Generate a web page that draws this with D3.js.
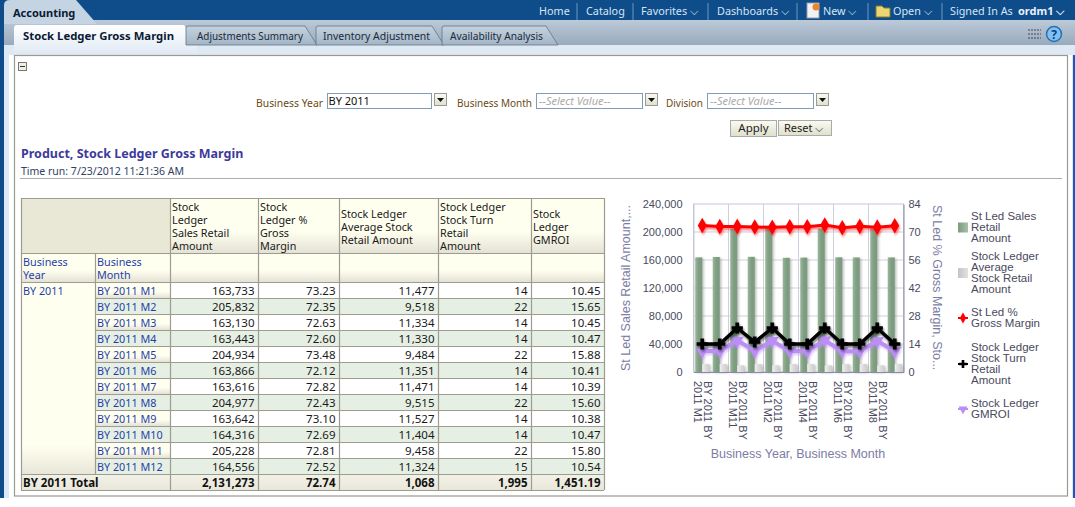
<!DOCTYPE html>
<html>
<head>
<meta charset="utf-8">
<title>Stock Ledger Gross Margin</title>
<script src="https://cdn.jsdelivr.net/npm/d3@7"></script>
<style>
  html, body { margin: 0; padding: 0; background: #fff; overflow: hidden; }
  svg { display: block; font-family: "Noto Sans", sans-serif; }
  .chart text { font-family: "Liberation Sans", Arial, sans-serif; }
</style>
</head>
<body>
<svg id="page" width="1075" height="507"></svg>
<script>
// table order
const months = ["BY 2011 M1","BY 2011 M2","BY 2011 M3","BY 2011 M4","BY 2011 M5","BY 2011 M6",
                "BY 2011 M7","BY 2011 M8","BY 2011 M9","BY 2011 M10","BY 2011 M11","BY 2011 M12"];
const salesRetail = [163733,205832,163130,163443,204934,163866,163616,204977,163642,164316,205228,164556];
const grossMargin = [73.23,72.35,72.63,72.60,73.48,72.12,72.82,72.43,73.10,72.69,72.81,72.52];
const avgStock = [11477,9518,11334,11330,9484,11351,11471,9515,11527,11404,9458,11324];
const stockTurn = [14,22,14,14,22,14,14,22,14,14,22,15];
const gmroi = [10.45,15.65,10.45,10.47,15.88,10.41,10.39,15.60,10.38,10.47,15.80,10.54];
const totals = ["2,131,273","72.74","1,068","1,995","1,451.19"];

const leftTicks = [0,40000,80000,120000,160000,200000,240000];
const rightTicks = [0,14,28,42,56,70,84];

const headers = [
  ["Stock","Ledger","Sales Retail","Amount"],
  ["Stock","Ledger %","Gross","Margin"],
  ["Stock Ledger","Average Stock","Retail Amount"],
  ["Stock Ledger","Stock Turn","Retail","Amount"],
  ["Stock","Ledger","GMROI"]
];
const legendItems = [
  {lines:["St Led Sales","Retail","Amount"], kind:"bar", color:"url(#legendGreen)"},
  {lines:["Stock Ledger","Average","Stock Retail","Amount"], kind:"bar", color:"url(#legendGrey)"},
  {lines:["St Led %","Gross Margin"], kind:"diamond", color:"#ff0000"},
  {lines:["Stock Ledger","Stock Turn","Retail","Amount"], kind:"plus", color:"#000000"},
  {lines:["Stock Ledger","GMROI"], kind:"tri", color:"#bb8ef5"}
];

const svg = d3.select("#page");
const defs = svg.append("defs");

function vGrad(id, stops, horizontal) {
  const g = defs.append("linearGradient").attr("id", id)
    .attr("x1", 0).attr("y1", 0).attr("x2", horizontal ? 1 : 0).attr("y2", horizontal ? 0 : 1);
  stops.forEach(s => g.append("stop").attr("offset", s[0]).attr("stop-color", s[1]));
}
vGrad("tabBar", [[0,"#bccad8"],[1,"#98aabd"]]);
vGrad("activeTab", [[0,"#ffffff"],[1,"#dfe9f3"]]);
vGrad("navTab", [[0,"#c4d2de"],[1,"#a3b5c6"]]);
vGrad("headCell", [[0,"#fffff0"],[0.6,"#fffff0"],[1,"#e4e2d4"]]);
vGrad("rowCell", [[0,"#fffff0"],[0.85,"#fffff0"],[1,"#e8e6d8"]]);
vGrad("totalCell", [[0,"#f3f2e8"],[1,"#e9e7da"]]);
vGrad("button", [[0,"#fbfbf2"],[1,"#dfdfcc"]]);
vGrad("barGreen", [[0,"#9ab69a"],[0.5,"#7f9f82"],[1,"#7a9a7e"]], true);
vGrad("barGrey", [[0,"#efefef"],[0.5,"#dcdcdc"],[1,"#cecece"]], true);
vGrad("legendGreen", [[0,"#7a9c7c"],[1,"#a9c0a9"]], true);
vGrad("legendGrey", [[0,"#c4c4c4"],[1,"#e2e2e2"]], true);

const soft = defs.append("filter").attr("id", "soft")
  .attr("x", "-30%").attr("y", "-30%").attr("width", "170%").attr("height", "170%");
soft.append("feDropShadow").attr("dx", 1.5).attr("dy", 1).attr("stdDeviation", 1)
  .attr("flood-color", "#777").attr("flood-opacity", 0.5);
// lines cast a blurred copy of their own colour
const glow = defs.append("filter").attr("id", "glow")
  .attr("x", "-10%").attr("y", "-30%").attr("width", "120%").attr("height", "170%");
glow.append("feGaussianBlur").attr("in", "SourceGraphic").attr("stdDeviation", 1.2).attr("result", "b");
glow.append("feOffset").attr("in", "b").attr("dx", 1).attr("dy", 1.5).attr("result", "o");
glow.append("feComponentTransfer").attr("in", "o").attr("result", "f")
  .append("feFuncA").attr("type", "linear").attr("slope", 0.5);
const glowMerge = glow.append("feMerge");
glowMerge.append("feMergeNode").attr("in", "f");
glowMerge.append("feMergeNode").attr("in", "SourceGraphic");

function label(g, x, y, txt, o) {
  o = o || {};
  const t = g.append("text").attr("x", x).attr("y", y).text(txt)
    .attr("font-size", o.size || 10.8)
    .attr("font-weight", o.weight || null)
    .attr("font-style", o.style || null)
    .attr("text-anchor", o.anchor || "start")
    .attr("fill", o.fill || "#222");
  // Tahoma is not installed, squeeze the stand-in to the measured width
  if (o.w) t.attr("textLength", o.w).attr("lengthAdjust", "spacingAndGlyphs");
  return t;
}

// ---- page frame ----
const frame = svg.append("g");
frame.append("rect").attr("width", 1075).attr("height", 507).attr("fill", "#dce8f3");
frame.append("rect").attr("width", 4).attr("height", 507).attr("fill", "#0f4c8a");
frame.append("rect").attr("x", 9).attr("y", 55).attr("width", 1063).attr("height", 443).attr("fill", "#fff");
frame.append("rect").attr("x", 1073).attr("width", 2).attr("height", 507).attr("fill", "#1c55c8");
frame.append("rect").attr("y", 498).attr("width", 1075).attr("height", 9).attr("fill", "#ffffff");
frame.append("rect").attr("width", 1075).attr("height", 20).attr("fill", "#0f4c8a");
frame.append("rect").attr("x", 4).attr("y", 20).attr("width", 1071).attr("height", 25).attr("fill", "url(#tabBar)");

// Accounting tab
frame.append("path").attr("d", "M4,24V5Q4,0 10,0H76L97,24Z").attr("fill", "#c4d4e2");
label(frame, 13, 17, "Accounting", {size:11, weight:"bold", fill:"#0b1a33"});

// top nav
const nav = [["Home",539],["Catalog",586],["Favorites ⌵",641],["Dashboards ⌵",717],["New ⌵",823],["Open ⌵",893],["Signed In As",950]];
nav.forEach(n => label(frame, n[1], 15, n[0], {size:10.8, fill:"#d5e6f5"}));
label(frame, 1018, 15, "ordm1 ⌵", {size:11, weight:"bold", fill:"#e6f1fa"});
[577,633,708,797,868,942].forEach(x => frame.append("line").attr("x1", x).attr("x2", x).attr("y1", 3).attr("y2", 20).attr("stroke", "#6f97bd"));
frame.append("rect").attr("x", 807).attr("y", 3).attr("width", 12).attr("height", 15).attr("fill", "#f2f2f2").attr("stroke", "#99a");
frame.append("circle").attr("cx", 816).attr("cy", 7).attr("r", 3.5).attr("fill", "#e8862a");
frame.append("path").attr("d", "M876,6H882L884,8H890V17H876Z").attr("fill", "#e9d774").attr("stroke", "#8c7a2a");

// sub tabs
frame.append("rect").attr("x", 4).attr("y", 45).attr("width", 1071).attr("height", 10).attr("fill", "#dfe9f3");
frame.append("path").attr("d", "M14,55V28Q14,25 17,25H184L197,45V55Z").attr("fill", "url(#activeTab)");
label(frame, 23, 40, "Stock Ledger Gross Margin", {size:11.25, weight:"bold", fill:"#0b1a33", w:151});
[[186,"Adjustments Summary",197,305,106],[316,"Inventory Adjustment",323,432,107],[442,"Availability Analysis",450,546,93]].forEach(t => {
  frame.append("path").attr("d", `M${t[0]},45V28Q${t[0]},26 ${t[0]+2},26H${t[3]}L${t[3]+12},45Z`)
    .attr("fill", "url(#navTab)").attr("stroke", "#5f7587").attr("stroke-width", 0.8);
  label(frame, t[2], 40, t[1], {size:10.7, fill:"#1a2a3a", w:t[4]});
});

// toolbar icons
[30,34,38].forEach(y => frame.append("line").attr("x1", 1028).attr("x2", 1041).attr("y1", y).attr("y2", y).attr("stroke", "#445").attr("stroke-dasharray", "2 1"));
frame.append("circle").attr("cx", 1054).attr("cy", 34).attr("r", 7.5).attr("fill", "#7fc0f2").attr("stroke", "#2a6fb0").attr("stroke-width", 1.5);
label(frame, 1054, 38.5, "?", {size:12, weight:"bold", anchor:"middle", fill:"#123f7a"});

// white panel
frame.append("rect").attr("x", 14.5).attr("y", 55.5).attr("width", 1053).attr("height", 440.5)
  .attr("fill", "#fff").attr("stroke", "#9a9a92").attr("stroke-width", 1.2);

// collapse box
frame.append("rect").attr("x", 18.5).attr("y", 62.5).attr("width", 8).attr("height", 8).attr("fill", "#eeeee2").attr("stroke", "#777");
frame.append("line").attr("x1", 20).attr("x2", 25).attr("y1", 66.5).attr("y2", 66.5).attr("stroke", "#333");

// ---- prompts ----
const prompts = svg.append("g");
function combo(x, w, txt, placeholder, labelText, labelX, labelW) {
  label(prompts, labelX, 107, labelText, {size:10.7, fill:"#6b4a12", w:labelW});
  prompts.append("rect").attr("x", x + 0.5).attr("y", 93.5).attr("width", w).attr("height", 15).attr("fill", "#fff").attr("stroke", "#7f9db9");
  label(prompts, x + (placeholder ? 3 : 1.5), 105, txt, placeholder ? {size:11, style:"italic", fill:"#aaa"} : {size:11, fill:"#111"});
  const bx = x + w + 3;
  prompts.append("rect").attr("x", bx + 0.5).attr("y", 93.5).attr("width", 12).attr("height", 12).attr("fill", "url(#button)").attr("stroke", "#999");
  prompts.append("path").attr("d", `M${bx+3},98h7l-3.5,4Z`).attr("fill", "#111");
}
combo(327, 104, "BY 2011", false, "Business Year", 256, 67);
combo(536, 106, "--Select Value--", true, "Business Month", 457, 75);
combo(707, 106, "--Select Value--", true, "Division", 666, 37);
prompts.append("rect").attr("x", 730.5).attr("y", 120.5).attr("width", 46).attr("height", 16).attr("fill", "url(#button)").attr("stroke", "#aaa");
label(prompts, 753.5, 132, "Apply", {size:11.5, anchor:"middle"});
prompts.append("rect").attr("x", 778.5).attr("y", 120.5).attr("width", 53).attr("height", 15).attr("fill", "url(#button)").attr("stroke", "#aaa");
label(prompts, 784, 132, "Reset ⌵", {size:11});

label(svg, 21, 158, "Product, Stock Ledger Gross Margin", {size:12.5, weight:"bold", fill:"#3d3a9c"});
label(svg, 21, 175, "Time run: 7/23/2012 11:21:36 AM", {size:10.5, fill:"#2f3f66"});
svg.append("line").attr("x1", 20).attr("x2", 1062).attr("y1", 178.5).attr("y2", 178.5).attr("stroke", "#a8adb0");

// ---- table ----
const colX = [21,95,170,258,339,438,531,604];
const rowH = 16, rowTop = 282, headTop = 198, headMid = 253;
const tbl = svg.append("g");
const lineColor = "#9c9c90";
const blue = "#1f3fa6";

tbl.append("rect").attr("x", colX[0]).attr("y", headTop).attr("width", colX[2]-colX[0]).attr("height", headMid-headTop).attr("fill", "#e9e8d6");
headers.forEach((h, i) => {
  tbl.append("rect").attr("x", colX[i+2]).attr("y", headTop).attr("width", colX[i+3]-colX[i+2]).attr("height", headMid-headTop).attr("fill", "url(#headCell)");
  const y0 = h.length === 4 ? 211 : 218;
  h.forEach((t, j) => label(tbl, colX[i+2]+2, y0 + j*13, t, {fill:"#1a1a1a"}));
  tbl.append("rect").attr("x", colX[i+2]).attr("y", headMid).attr("width", colX[i+3]-colX[i+2]).attr("height", rowTop-headMid).attr("fill", "url(#headCell)");
});
[[0,["Business","Year"]],[1,["Business","Month"]]].forEach(d => {
  tbl.append("rect").attr("x", colX[d[0]]).attr("y", headMid).attr("width", colX[d[0]+1]-colX[d[0]]).attr("height", rowTop-headMid).attr("fill", "url(#headCell)");
  d[1].forEach((t, j) => label(tbl, colX[d[0]]+2, 266 + j*13, t, {fill:blue}));
});

// year cell
tbl.append("rect").attr("x", colX[0]).attr("y", rowTop).attr("width", colX[1]-colX[0]).attr("height", rowH*12).attr("fill", "url(#rowCell)");
label(tbl, colX[0]+2, rowTop+13, "BY 2011", {fill:blue});

const fmtInt = d3.format(",");
const fmt2 = d3.format(",.2f");
const rows = months.map((m, i) => ({
  month: m,
  cells: [fmtInt(salesRetail[i]), fmt2(grossMargin[i]), fmtInt(avgStock[i]), fmtInt(stockTurn[i]), fmt2(gmroi[i])]
}));
const rowG = tbl.selectAll("g.row").data(rows).join("g").attr("class", "row")
  .attr("transform", (d, i) => `translate(0,${rowTop + i*rowH})`);
rowG.append("rect").attr("x", colX[1]).attr("width", colX[2]-colX[1]).attr("height", rowH)
  .attr("fill", (d, i) => i % 2 ? "#e6efe4" : "url(#headCell)");
rowG.append("rect").attr("x", colX[2]).attr("width", colX[7]-colX[2]).attr("height", rowH)
  .attr("fill", (d, i) => i % 2 ? "#e6efe4" : "#ffffff");
rowG.append("text").attr("x", colX[1]+2).attr("y", 13).attr("font-size", 10.8).attr("fill", blue).text(d => d.month);
rowG.selectAll("text.val").data(d => d.cells).join("text").attr("class", "val")
  .attr("x", (d, i) => colX[i+3]-3.5).attr("y", 13).attr("text-anchor", "end")
  .attr("font-size", 11.5).attr("fill", "#1a1a1a").text(d => d);

// total row
const totalY = rowTop + rowH*12;
tbl.append("rect").attr("x", colX[0]).attr("y", totalY).attr("width", colX[7]-colX[0]).attr("height", 16).attr("fill", "url(#totalCell)");
label(tbl, colX[0]+2, totalY+13, "BY 2011 Total", {size:11.5, weight:"bold", fill:"#111"});
totals.forEach((t, i) => label(tbl, colX[i+3]-3.5, totalY+13, t, {size:11.5, weight:"bold", anchor:"end", fill:"#111"}));

// table grid
const hLines = [[headTop,0,7],[headMid,0,7],[rowTop,0,7]];
d3.range(1,13).forEach(i => hLines.push([rowTop+i*rowH, i===12?0:1, 7]));
hLines.push([totalY+16,0,7]);
hLines.forEach(l => tbl.append("line").attr("x1", colX[l[1]]).attr("x2", colX[l[2]]).attr("y1", l[0]+0.5).attr("y2", l[0]+0.5).attr("stroke", lineColor).attr("stroke-width", 1.2));
colX.forEach((x, i) => {
  let y1 = headTop, y2 = totalY+16;
  if (i === 1) { y1 = headMid; y2 = totalY; }
  tbl.append("line").attr("x1", x+0.5).attr("x2", x+0.5).attr("y1", y1).attr("y2", y2).attr("stroke", lineColor).attr("stroke-width", 1.2);
});

// ---- chart ----
const chart = svg.append("g").attr("class", "chart");
const plot = {left:693.5, right:903.5, top:204, bottom:372};
const axisText = "#4a4a5e", titleText = "#7c7ca4";

// categories are sorted as strings on the chart, so M10 comes right after M1
const order = d3.range(months.length).sort((a, b) => d3.ascending(months[a], months[b]));
const byOrder = arr => order.map(i => arr[i]);
const chartMonths = byOrder(months);

const x = d3.scaleBand().domain(chartMonths).range([plot.left, plot.right]);
const xSub = d3.scaleBand().domain(["sales","stock"]).range([0, x.bandwidth()]).paddingOuter(0.25);
const yLeft = d3.scaleLinear().domain([0,240000]).range([plot.bottom, plot.top]);
const yRight = d3.scaleLinear().domain([0,84]).range([plot.bottom, plot.top]);

// grid
chart.append("rect").attr("x", plot.left).attr("y", plot.top).attr("width", plot.right-plot.left).attr("height", plot.bottom-plot.top).attr("fill", "#fff").attr("stroke", "#c6c6d6");
chart.append("g").selectAll("line").data(leftTicks.slice(1,-1)).join("line")
  .attr("x1", plot.left).attr("x2", plot.right).attr("y1", d => yLeft(d)).attr("y2", d => yLeft(d)).attr("stroke", "#cfcfdd");
chart.append("g").selectAll("line").data(chartMonths.filter((d, i) => i && i % 2 === 0)).join("line")
  .attr("x1", d => x(d)).attr("x2", d => x(d)).attr("y1", plot.top).attr("y2", plot.bottom).attr("stroke", "#cfcfdd");

// bars
const bars = chart.append("g");
bars.selectAll("rect.sales").data(byOrder(salesRetail)).join("rect").attr("class", "sales")
  .attr("x", (d, i) => x(chartMonths[i]) + xSub("sales")).attr("width", xSub.bandwidth())
  .attr("y", d => yLeft(d)).attr("height", d => plot.bottom - yLeft(d))
  .attr("fill", "url(#barGreen)").attr("filter", "url(#soft)");
bars.selectAll("rect.stock").data(byOrder(avgStock)).join("rect").attr("class", "stock")
  .attr("x", (d, i) => x(chartMonths[i]) + xSub("stock")).attr("width", xSub.bandwidth())
  .attr("y", d => yLeft(d)).attr("height", d => plot.bottom - yLeft(d))
  .attr("fill", "url(#barGrey)").attr("filter", "url(#soft)");

// lines on the right axis
const cx = i => x(chartMonths[i]) + x.bandwidth()/2;
const lineGen = d3.line().x((d, i) => cx(i)).y(d => yRight(d));
const symDiamond = d3.symbol().type(d3.symbolDiamond).size(70)();
const symPlus = d3.symbol().type(d3.symbolCross).size(70)();
const symTri = d3.symbol().type(d3.symbolTriangle).size(70)();
function series(vals, color, sym, rot, width) {
  const g = chart.append("g").attr("filter", "url(#glow)");
  g.append("path").attr("d", lineGen(vals)).attr("fill", "none").attr("stroke", color).attr("stroke-width", width);
  g.selectAll("path.m").data(vals).join("path").attr("class", "m").attr("d", sym).attr("fill", color)
    .attr("transform", (d, i) => `translate(${cx(i)},${yRight(d)}) rotate(${rot})`);
}
series(byOrder(gmroi), "#bb8ef5", symTri, 180, 4);
series(byOrder(stockTurn), "#000000", symPlus, 0, 3.5);
series(byOrder(grossMargin), "#ff0000", symDiamond, 0, 3);

// axes
const leftAxis = chart.append("g").attr("transform", `translate(${plot.left},0)`)
  .call(d3.axisLeft(yLeft).tickValues(leftTicks).tickFormat(d3.format(",")).tickSize(0).tickPadding(11));
const rightAxis = chart.append("g").attr("transform", `translate(${plot.right},0)`)
  .call(d3.axisRight(yRight).tickValues(rightTicks).tickSize(0).tickPadding(5));
const bottomAxis = chart.append("g").attr("transform", `translate(0,${plot.bottom})`)
  .call(d3.axisBottom(x).tickValues(chartMonths.filter((d, i) => i % 2 === 0)).tickSize(0).tickFormat(() => ""));
[leftAxis, rightAxis].forEach(a => a.selectAll("text").attr("font-size", 11).attr("fill", axisText).attr("font-family", "Liberation Sans"));
leftAxis.select(".domain").attr("stroke", "#c6c6d6");
rightAxis.select(".domain").attr("stroke", "#8a8aa8");
bottomAxis.select(".domain").attr("stroke", "#8a8aa8");

// the wrapped labels run down the page: first line sits on the right
bottomAxis.selectAll(".tick").each(function(d) {
  const parts = ["BY 2011 " + d.slice(0, 2), d.slice(3)];
  const tick = d3.select(this);
  tick.select("text").remove();
  [[2, parts[0]], [-8, parts[1]]].forEach(p => {
    tick.append("text").attr("transform", `translate(${p[0]},9) rotate(90)`).attr("text-anchor", "start")
      .attr("font-size", 11).attr("fill", axisText).text(p[1]);
  });
});

// axis titles
chart.append("text").attr("transform", "translate(630,371) rotate(-90)").attr("font-size", 12.5).attr("fill", titleText).text("St Led Sales Retail Amount,...");
chart.append("text").attr("transform", "translate(933,205) rotate(90)").attr("font-size", 12.5).attr("fill", titleText).text("St Led % Gross Margin, Sto...");
chart.append("text").attr("x", 798).attr("y", 458).attr("text-anchor", "middle").attr("font-size", 12.5).attr("fill", titleText).text("Business Year, Business Month");

// legend
const legendTop = [220,260,316,351,407];
legendItems.forEach((it, i) => {
  const g = chart.append("g");
  it.lines.forEach((t, j) => g.append("text").attr("x", 971).attr("y", legendTop[i] + j*11).attr("font-size", 11.5).attr("fill", "#4a4a5e").text(t));
  const my = legendTop[i] + (it.lines.length-1)*5.5 - 3.5;
  if (it.kind === "bar") {
    g.append("rect").attr("x", 958).attr("y", my-5).attr("width", 10).attr("height", 10).attr("fill", it.color);
  } else {
    g.append("line").attr("x1", 958).attr("x2", 968).attr("y1", my).attr("y2", my).attr("stroke", it.color).attr("stroke-width", 2);
    const sym = it.kind === "diamond" ? symDiamond : it.kind === "plus" ? symPlus : symTri;
    g.append("path").attr("d", sym).attr("fill", it.color).attr("transform", `translate(963,${my}) rotate(${it.kind === "tri" ? 180 : 0}) scale(0.7)`);
  }
});
</script>
</body>
</html>
